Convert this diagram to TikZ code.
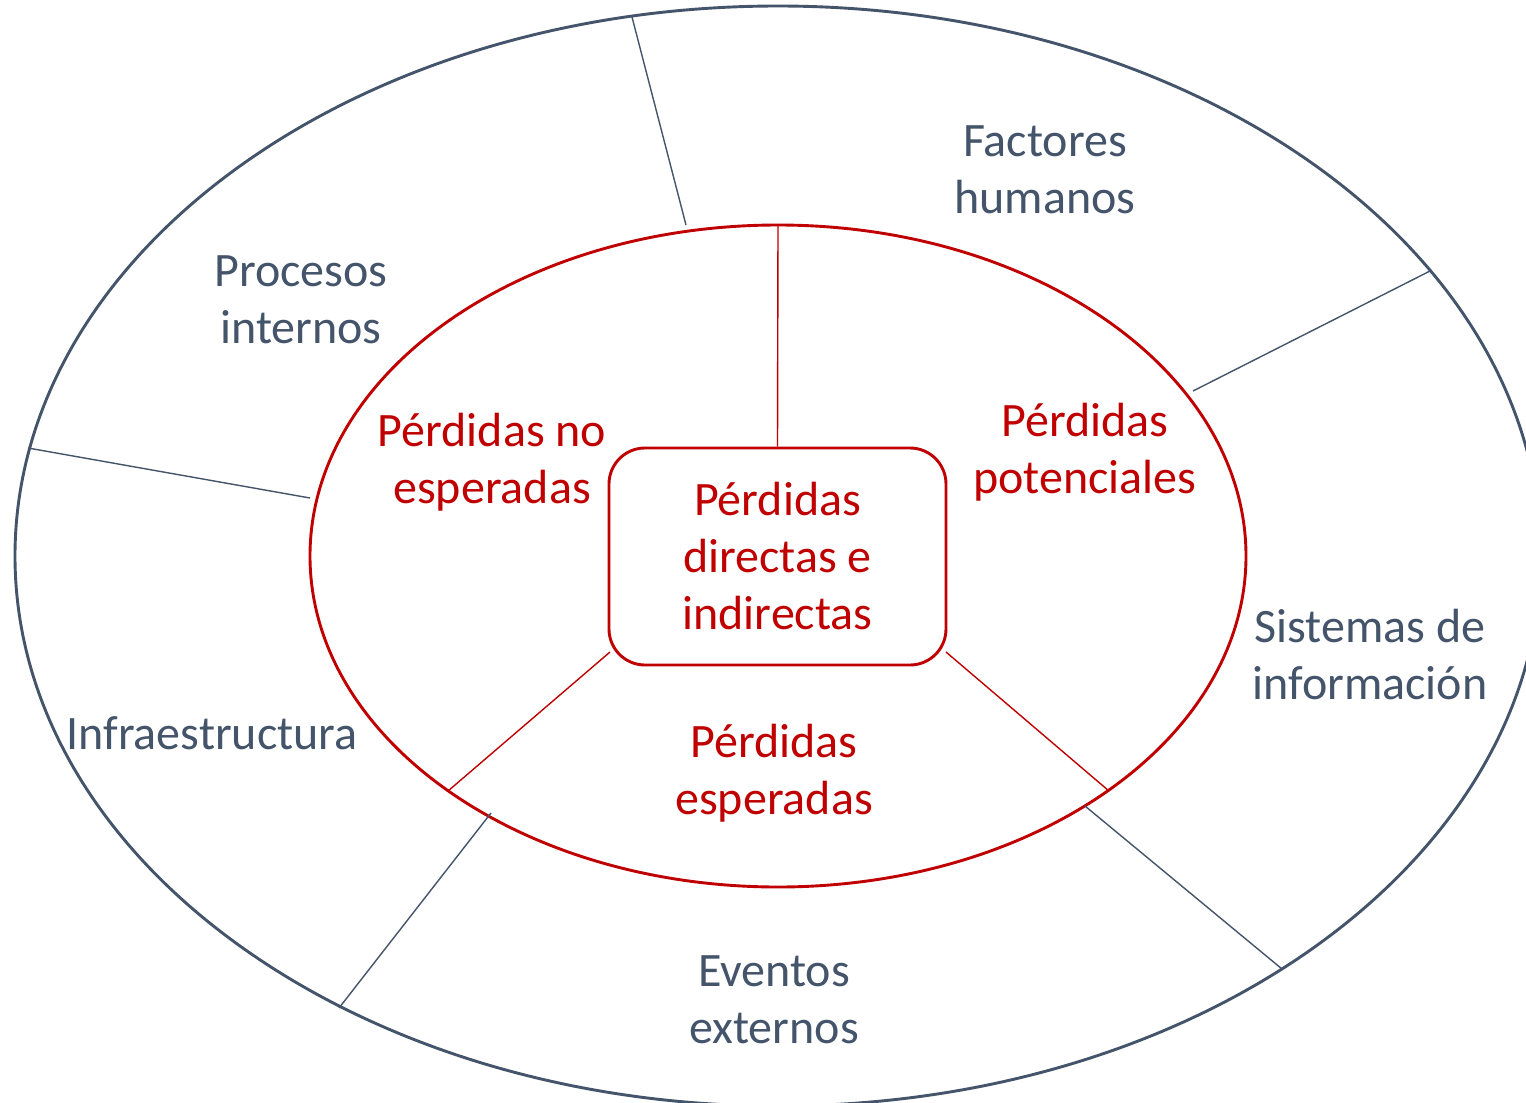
\documentclass[tikz,border=0pt]{standalone}
\usepackage{fontspec}
\setmainfont{Carlito}
\definecolor{slate}{HTML}{44546A}
\definecolor{darkred}{HTML}{C00000}
\tikzset{
  lblfont/.style={font=\fontsize{48}{57}\selectfont},
  outerlbl/.style={lblfont, text=slate, align=center, inner sep=0pt},
  innerlbl/.style={lblfont, text=darkred, align=center, inner sep=0pt},
  outerring/.style={draw=slate, line width=2.9pt},
  innerring/.style={draw=darkred, line width=2.9pt},
  slateline/.style={draw=slate, line width=1.4pt},
  redline/.style={draw=darkred, line width=1.4pt},
  corebox/.style={lblfont, draw=darkred, line width=2.9pt, rounded corners=36pt, minimum width=337pt, minimum height=217pt, text=darkred, align=center, inner sep=0pt}
}
\begin{document}
\begin{tikzpicture}[x=1pt,y=-1pt]
\useasboundingbox (0,0) rectangle (1526,1103);
\fill[white] (0,0) rectangle (1526,1103);
% rings
\draw[outerring] (778,556) ellipse [x radius=763pt, y radius=550pt];
\draw[innerring] (778,556) ellipse [x radius=468pt, y radius=331pt];
% core box
\node[corebox] (core) at (777.5,556.5) {Pérdidas\\directas e\\indirectas};
% coordinates on rings
\coordinate (o1) at (632,17);   \coordinate (i1) at (686,225);
\coordinate (o2) at (1430,271); \coordinate (i2) at (1193,391);
\coordinate (o3) at (28,448);   \coordinate (i3) at (310,498);
\coordinate (o4) at (339,1008); \coordinate (i4) at (491,813);
\coordinate (o5) at (1282,969); \coordinate (i5) at (1085,806);
\coordinate (r1) at (778,225);
\coordinate (r2) at (448,791);
\coordinate (r3) at (1109,791);
\coordinate (c2) at (610,652);
\coordinate (c3) at (946,652);
% outer dividers
\draw[slateline] (o1) -- (i1);
\draw[slateline] (o2) -- (i2);
\draw[slateline] (o3) -- (i3);
\draw[slateline] (o4) -- (i4);
\draw[slateline] (o5) -- (i5);
% inner dividers
\draw[redline] (r1) -- (core.north);
\draw[redline] (c2) -- (r2);
\draw[redline] (c3) -- (r3);
% outer labels
\node[outerlbl] (fh) at (1045,170) {Factores\\humanos};
\node[outerlbl] (pi) at (301,300) {Procesos\\internos};
\node[outerlbl] (inf) at (212,733) {Infraestructura};
\node[outerlbl] (ee) at (774,1000) {Eventos\\externos};
\node[outerlbl] (si) at (1370,655) {Sistemas de\\información};
% inner labels
\node[innerlbl] (pne) at (492,462) {Pérdidas no\\esperadas};
\node[innerlbl] (pp) at (1085,452) {Pérdidas\\potenciales};
\node[innerlbl] (pe) at (774,773) {Pérdidas\\esperadas};
\end{tikzpicture}
\end{document}
